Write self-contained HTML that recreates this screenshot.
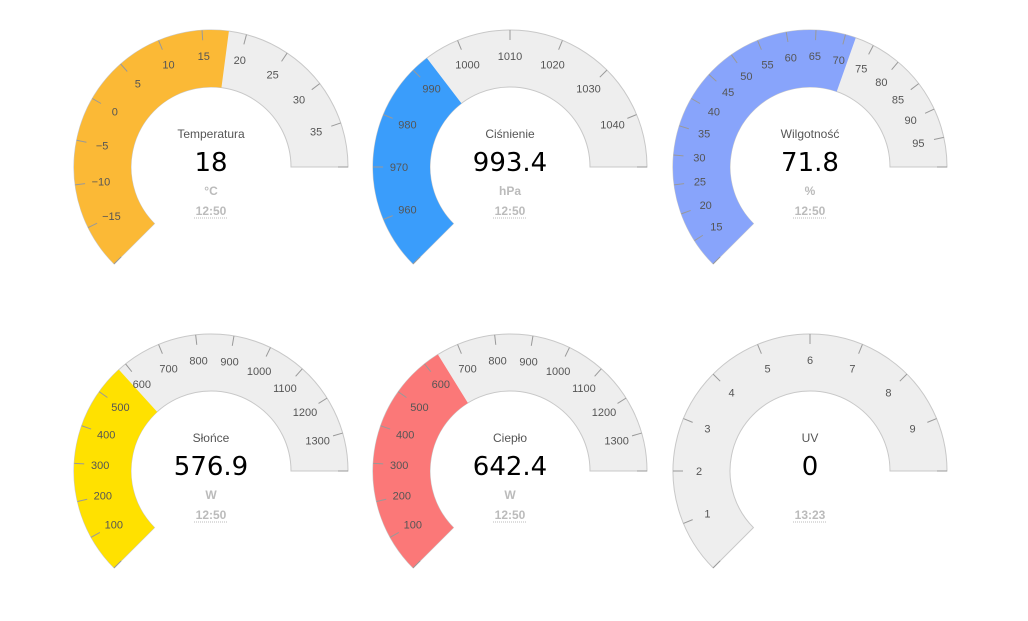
<!DOCTYPE html>
<html><head><meta charset="utf-8"><style>
body{margin:0;background:#fff;width:1028px;height:621px;overflow:hidden;font-family:"Liberation Sans","DejaVu Sans",sans-serif}
svg{position:absolute;left:0;top:0}
</style></head><body>
<svg id="s" width="1028" height="621"></svg>
<script>
const titles=["Temperatura","Ciśnienie","Wilgotność","Słońce","Ciepło","UV"];
const values=[18,993.4,71.8,576.9,642.4,0];
const valueLabels=["18","993.4","71.8","576.9","642.4","0"];
const mins=[-20,950,10,0,0,0];
const maxs=[40,1050,100,1400,1400,10];
const steps=[5,10,5,100,100,1];
const units=["°C","hPa","%","W","W",""];
const times=["12:50","12:50","12:50","12:50","12:50","13:23"];
const colors=["#fbb936","#3a9dfb","#88a4fb","#ffe100","#fb7878","#eeeeee"];
const centers=[[211,167],[510,167],[810,167],[211,471],[510,471],[810,471]];
const R=137,r=80,NS="http://www.w3.org/2000/svg";
const svg=document.getElementById('s');
function mk(t,a,p){const e=document.createElementNS(NS,t);for(const k in a)e.setAttribute(k,a[k]);(p||svg).appendChild(e);return e;}
function ang(v,i){return (225-(v-mins[i])/(maxs[i]-mins[i])*225)*Math.PI/180;}
function pt(cx,cy,rad,a){return [cx+rad*Math.cos(a),cy-rad*Math.sin(a)];}
function arc(cx,cy,a1,a2){ // a1>a2, clockwise on screen
 const p1=pt(cx,cy,R,a1),p2=pt(cx,cy,R,a2),q2=pt(cx,cy,r,a2),q1=pt(cx,cy,r,a1);
 const large=(a1-a2)>Math.PI?1:0;
 return `M${p1} A${R},${R} 0 ${large} 1 ${p2} L${q2} A${r},${r} 0 ${large} 0 ${q1} Z`;
}
centers.forEach((c,i)=>{
 const [cx,cy]=c;
 const g=mk('g',{});
 
 
 const bg=mk('path',{d:arc(cx,cy,ang(mins[i],i),ang(maxs[i],i)),fill:'#eeeeee',stroke:'#c8c8c8','stroke-width':1},g);
 
 
 if(values[i]>mins[i]){
  const f=mk('path',{d:arc(cx,cy,ang(mins[i],i),ang(values[i],i)),fill:colors[i]},g);
  
  
 }
 for(let v=mins[i];v<=maxs[i]+1e-9;v+=steps[i]){
  const a=ang(v,i);const p=pt(cx,cy,R,a),q=pt(cx,cy,R-10,a);
  const t=mk('line',{x1:p[0],y1:p[1],x2:q[0],y2:q[1],stroke:'#999','stroke-width':1},g);
  
  
  if(v>mins[i]&&v<maxs[i]-1e-9){
   const l=pt(cx,cy,111,a);
   const tx=mk('text',{x:l[0],y:l[1]+4,'text-anchor':'middle','font-size':11,fill:'#555'},g);
   tx.textContent=String(Math.round(v)).replace('-','−');
   
   
  }
 }
 const ti=mk('text',{x:cx,y:cy-29,'text-anchor':'middle','font-size':12,fill:'#555'},g);
 ti.textContent=titles[i];
 
 
 const vl=mk('text',{x:cx,y:cy+4,'text-anchor':'middle','font-size':26,fill:'#000','font-family':'DejaVu Sans, sans-serif'},g);
 vl.textContent=valueLabels[i];
 
 
 const un=mk('text',{x:cx,y:cy+28,'text-anchor':'middle','font-size':12,'font-weight':'bold',fill:'#bbb'},g);
 un.textContent=units[i];
 
 
 const tm=mk('text',{x:cx,y:cy+48,'text-anchor':'middle','font-size':12,'font-weight':'bold',fill:'#bbb'},g);
 tm.textContent=times[i];
 
 
 const ul=mk('line',{x1:cx-17,y1:cy+51,x2:cx+17,y2:cy+51,stroke:'#bbb','stroke-dasharray':'1,1'},g);
 
 
});
</script>
</body></html>
